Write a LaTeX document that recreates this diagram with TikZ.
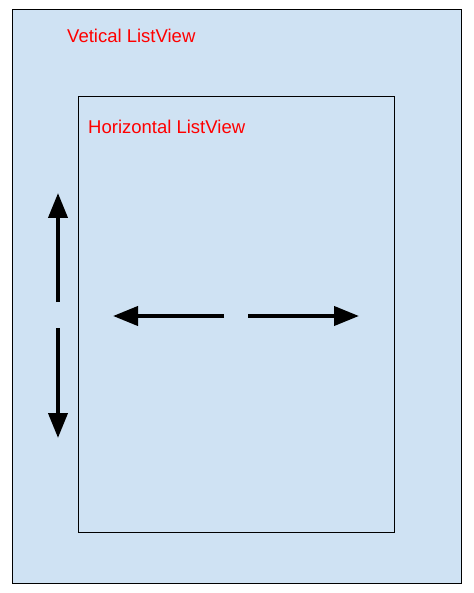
\documentclass[tikz,border=0pt]{standalone}
\usepackage{fontspec}
\setmainfont{Liberation Sans}
\usetikzlibrary{arrows.meta}
\definecolor{listblue}{HTML}{CFE2F3}
\definecolor{labelred}{HTML}{FF0000}

\begin{document}
\begin{tikzpicture}[x=1pt, y=-1pt,
  frame/.style={draw=black, fill=listblue, line width=0.9pt},
  caption/.style={anchor=base west, inner sep=0pt, text=labelred, font=\fontsize{18.5}{22}\selectfont},
  scroll/.style={line width=4pt, -{Triangle[length=25pt, width=19pt]}}]
  \useasboundingbox (0,0) rectangle (473,593);

  % Vertical list (outer frame)
  \draw[frame] (12,9) rectangle (461,583);
  \node[caption] (vlabel) at (67,43) {Vetical ListView};

  % Horizontal list (inner frame)
  \draw[frame] (78,96) rectangle (394,532);
  \node[caption] (hlabel) at (88,134) {Horizontal ListView};

  % Scroll directions
  \coordinate (upstart) at (58,302);
  \coordinate (uptip) at (58,193);
  \coordinate (downstart) at (58,328);
  \coordinate (downtip) at (58,438);
  \coordinate (leftstart) at (224,316);
  \coordinate (lefttip) at (113,316);
  \coordinate (rightstart) at (248,316);
  \coordinate (righttip) at (359,316);

  \draw[scroll] (upstart) -- (uptip);
  \draw[scroll] (downstart) -- (downtip);
  \draw[scroll] (leftstart) -- (lefttip);
  \draw[scroll] (rightstart) -- (righttip);
\end{tikzpicture}
\end{document}
